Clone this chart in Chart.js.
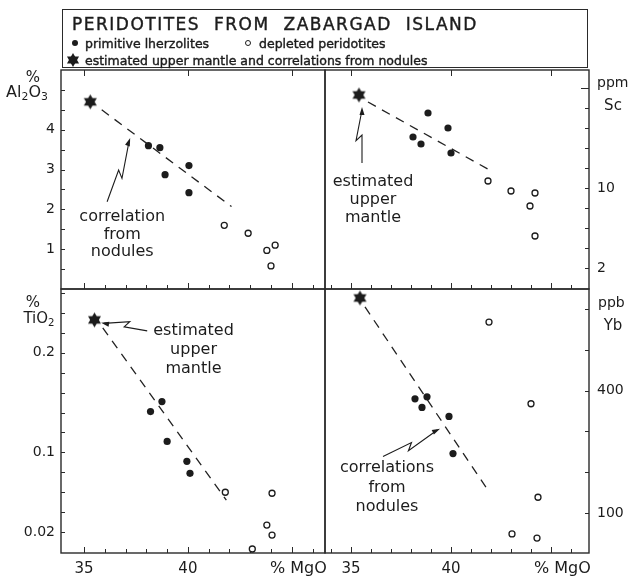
<!DOCTYPE html>
<html>
<head>
<meta charset="utf-8">
<script src="https://cdn.jsdelivr.net/npm/chart.js@4.4.0/dist/chart.umd.min.js"></script>
<style>
body { margin: 0; background: #fff; width: 629px; height: 581px; position: relative; overflow: hidden;
       font-family: "DejaVu Sans", sans-serif; color: #1c1c1c; }
canvas.plot { position: absolute; left: 0; top: 0; }
.lbl { position: absolute; white-space: nowrap; line-height: 1; }
.lbl canvas { display: block; }
.heavy { -webkit-text-stroke: 0.4px #1c1c1c; }
.s { font-size: 0.68em; position: relative; top: 0.3em; }
#titlebox { position: absolute; left: 62px; top: 9px; width: 524px; height: 57px; border: 1.4px solid #2a2a2a; }
</style>
</head>
<body>
<div id="titlebox"></div>
<canvas class="plot" id="alChart" width="629" height="581"></canvas>
<canvas class="plot" id="scChart" width="629" height="581"></canvas>
<canvas class="plot" id="tiChart" width="629" height="581"></canvas>
<canvas class="plot" id="ybChart" width="629" height="581"></canvas>
<script>
var MGO_LABELS = [35, 40];

// Al2O3 (%) against MgO (%)
var alPrimMgo = [38.1, 38.65, 38.9, 40.05, 40.05];
var alPrim    = [3.6, 3.55, 2.87, 3.1, 2.42];
var alDeplMgo = [41.75, 42.9, 43.8, 44.2, 44.0];
var alDepl    = [1.6, 1.4, 0.97, 1.1, 0.58];
var alMantle  = [35.3, 4.7];
var alTrend   = [[35.85, 4.5], [42.1, 2.07]];
var alLabels  = [1, 2, 3, 4];

// Sc (ppm)
var scPrimMgo = [38.85, 39.85, 38.1, 38.5, 40.0];
var scPrim    = [17.5, 16.0, 15.1, 14.4, 13.5];
var scDeplMgo = [41.85, 43.0, 44.2, 43.95, 44.2];
var scDepl    = [10.7, 9.7, 9.5, 8.2, 5.2];
var scMantle  = [35.4, 19.3];
var scTrend   = [[35.85, 18.6], [42.1, 11.6]];
var scLabels  = [2, 10];

// TiO2 (%)
var tiPrimMgo = [38.2, 38.75, 39.0, 39.95, 40.1];
var tiPrim    = [0.141, 0.151, 0.111, 0.091, 0.079];
var tiDeplMgo = [41.8, 44.05, 43.8, 44.05, 43.1];
var tiDepl    = [0.06, 0.059, 0.027, 0.017, 0.003];
var tiMantle  = [35.5, 0.233];
var tiTrend   = [[35.9, 0.225], [41.85, 0.052]];
var tiLabels  = [0.02, 0.1, 0.2];

// Yb (ppb)
var ybPrimMgo = [38.2, 38.8, 38.55, 39.9, 40.1];
var ybPrim    = [380, 385, 359, 337, 246];
var ybDeplMgo = [41.9, 44.0, 44.35, 43.05, 44.3];
var ybDepl    = [568, 368, 139, 49, 39];
var ybMantle  = [35.45, 627];
var ybTrend   = [[35.7, 605], [41.85, 156]];
var ybLabels  = [100, 400];

var INK = '#1c1c1c';

function pts(xs, ys) {
  return xs.map(function (x, i) { return { x: x, y: ys[i] }; });
}

function makeStar(r) {
  var c = document.createElement('canvas');
  var s = Math.ceil(r * 2 + 2);
  c.width = s; c.height = s;
  var g = c.getContext('2d');
  g.fillStyle = INK;
  [-Math.PI / 2, Math.PI / 2].forEach(function (a0) {
    g.beginPath();
    for (var k = 0; k < 3; k++) {
      var a = a0 + k * 2 * Math.PI / 3;
      var px = s / 2 + r * Math.cos(a), py = s / 2 + r * Math.sin(a);
      if (k === 0) g.moveTo(px, py); else g.lineTo(px, py);
    }
    g.closePath();
    g.fill();
  });
  return c;
}
var starImg = makeStar(7.5);

// frame, inward tick marks, notes and arrows
var panelPlugin = {
  id: 'panel',
  beforeDatasetsDraw: function (chart, args, o) {
    var ctx = chart.ctx, a = chart.chartArea;
    var xs = chart.scales.x, ys = chart.scales.y;
    ctx.save();
    ctx.strokeStyle = '#2a2a2a';
    ctx.lineWidth = 1.4;
    ctx.strokeRect(a.left, a.top, a.right - a.left, a.bottom - a.top);
    ctx.lineWidth = 1;
    ctx.beginPath();
    for (var v = 34; v <= 46; v++) {
      var px = Math.round(xs.getPixelForValue(v)) + 0.5;
      if (px < a.left + 3 || px > a.right - 3) continue;
      var len = v % 5 === 0 ? 6 : 4;
      ctx.moveTo(px, a.bottom); ctx.lineTo(px, a.bottom - len);
      if (o.topTicks && v % 5 === 0) { ctx.moveTo(px, a.top); ctx.lineTo(px, a.top + 6); }
    }
    var right = o.side === 'right';
    for (var i = 1; ; i++) {
      var val = i * o.yStep;
      var py = Math.round(ys.getPixelForValue(val)) + 0.5;
      if (py < a.top + 3) break;
      var l = (o.yLong && Math.abs(val - o.yLong) < 1e-9) ? 8 : 4;
      if (right) { ctx.moveTo(a.right, py); ctx.lineTo(a.right - l, py); }
      else { ctx.moveTo(a.left, py); ctx.lineTo(a.left + l, py); }
    }
    ctx.stroke();
    ctx.restore();
  },
  afterDatasetsDraw: function (chart, args, o) {
    var ctx = chart.ctx, xs = chart.scales.x, ys = chart.scales.y;
    ctx.save();
    ctx.fillStyle = INK;
    ctx.strokeStyle = INK;
    ctx.font = '16px "DejaVu Sans"';
    ctx.textAlign = 'center';
    ctx.textBaseline = 'middle';
    (o.notes || []).forEach(function (n) {
      var cx = xs.getPixelForValue(n.at[0]), cy = ys.getPixelForValue(n.at[1]);
      n.lines.forEach(function (t, k) { ctx.fillText(t, cx, cy + k * n.gap); });
      if (!n.arrow) return;
      var x0 = xs.getPixelForValue(n.arrow.from[0]), y0 = ys.getPixelForValue(n.arrow.from[1]);
      var x1 = xs.getPixelForValue(n.arrow.to[0]), y1 = ys.getPixelForValue(n.arrow.to[1]);
      var dx = x1 - x0, dy = y1 - y0, L = Math.sqrt(dx * dx + dy * dy);
      var ux = dx / L, uy = dy / L, nx = -uy * n.arrow.kink, ny = ux * n.arrow.kink;
      var ax = x0 + ux * L * 0.5, ay = y0 + uy * L * 0.5;
      var bx = x0 + ux * L * 0.4 + nx * 6, by = y0 + uy * L * 0.4 + ny * 6;
      ctx.lineWidth = 1.1;
      ctx.beginPath();
      ctx.moveTo(x0, y0); ctx.lineTo(ax, ay); ctx.lineTo(bx, by); ctx.lineTo(x1 - ux * 3, y1 - uy * 3);
      ctx.stroke();
      ctx.beginPath();
      ctx.moveTo(x1, y1);
      ctx.lineTo(x1 - ux * 8 + uy * 2.5, y1 - uy * 8 - ux * 2.5);
      ctx.lineTo(x1 - ux * 8 - uy * 2.5, y1 - uy * 8 + ux * 2.5);
      ctx.closePath();
      ctx.fill();
    });
    ctx.restore();
  }
};

function makePanel(id, p) {
  var showX = p.xLabels;
  var yW = p.side === 'left' ? 50 : 38;
  var xH = showX ? 26 : 0;
  var pad = {
    left: p.side === 'left' ? p.rect[0] - yW : p.rect[0],
    right: p.side === 'right' ? 629 - p.rect[2] - yW : 629 - p.rect[2],
    top: p.rect[1],
    bottom: 581 - p.rect[3] - xH
  };
  return new Chart(document.getElementById(id), {
    type: 'scatter',
    data: {
      datasets: [
        { data: [{ x: p.mantle[0], y: p.mantle[1] }], pointStyle: starImg, pointRadius: 8, order: 0 },
        { data: pts(p.primMgo, p.prim), pointStyle: 'circle', pointRadius: 3.6,
          backgroundColor: INK, borderWidth: 0, order: 1 },
        { data: pts(p.deplMgo, p.depl), pointStyle: 'circle', pointRadius: 3,
          backgroundColor: '#fff', borderColor: INK, borderWidth: 1.3, order: 2 },
        { type: 'line', data: p.trend.map(function (t) { return { x: t[0], y: t[1] }; }),
          showLine: true, borderColor: '#222', borderWidth: 1.3, borderDash: [9, 7],
          pointRadius: 0, fill: false, order: 3 }
      ]
    },
    options: {
      responsive: false,
      animation: false,
      events: [],
      devicePixelRatio: 1,
      clip: false,
      layout: { padding: pad },
      plugins: {
        legend: { display: false },
        tooltip: { enabled: false },
        panel: { side: p.side, topTicks: !showX, yStep: p.yStep, yLong: p.yLong, notes: p.notes }
      },
      scales: {
        x: {
          type: 'linear', position: 'bottom', min: p.xMin, max: p.xMax,
          grid: { display: false, drawTicks: false }, border: { display: false },
          afterBuildTicks: function (s) { s.ticks = MGO_LABELS.map(function (v) { return { value: v }; }); },
          afterFit: function (s) { s.height = xH; },
          ticks: { display: showX, padding: 7, color: INK, font: { family: 'DejaVu Sans', size: 15 },
                   callback: function (v) { return String(v); } }
        },
        y: {
          type: 'linear', position: p.side, min: p.yMin, max: p.yMax,
          grid: { display: false, drawTicks: false }, border: { display: false },
          afterBuildTicks: function (s) { s.ticks = p.labels.map(function (v) { return { value: v }; }); },
          afterFit: function (s) { s.width = yW; },
          ticks: { padding: p.side === 'left' ? 6 : 8, color: INK, font: { family: 'DejaVu Sans', size: 14 },
                   callback: function (v) { return String(v); } }
        }
      }
    },
    plugins: [panelPlugin]
  });
}

makePanel('alChart', {
  rect: [61, 70, 325, 289], side: 'left', xLabels: false, xMin: 33.89, xMax: 46.6,
  yMin: 0, yMax: 5.5, yStep: 0.5, labels: alLabels,
  primMgo: alPrimMgo, prim: alPrim, deplMgo: alDeplMgo, depl: alDepl, mantle: alMantle, trend: alTrend,
  notes: [{ lines: ['correlation', 'from', 'nodules'], at: [36.84, 1.81], gap: 17.5,
            arrow: { from: [36.11, 2.19], to: [37.22, 3.79], kink: 1 } }]
});

makePanel('scChart', {
  rect: [325, 70, 589, 289], side: 'right', xLabels: false, xMin: 33.7, xMax: 46.9,
  yMin: -0.1, yMax: 21.8, yStep: 2, yLong: 20, labels: scLabels,
  primMgo: scPrimMgo, prim: scPrim, deplMgo: scDeplMgo, depl: scDepl, mantle: scMantle, trend: scTrend,
  notes: [{ lines: ['estimated', 'upper', 'mantle'], at: [36.1, 10.6], gap: 18,
            arrow: { from: [35.55, 12.5], to: [35.55, 18.1], kink: -1 } }]
});

makePanel('tiChart', {
  rect: [61, 289, 325, 553], side: 'left', xLabels: true, xMin: 33.89, xMax: 46.6,
  yMin: -0.001, yMax: 0.264, yStep: 0.02, labels: tiLabels,
  primMgo: tiPrimMgo, prim: tiPrim, deplMgo: tiDeplMgo, depl: tiDepl, mantle: tiMantle, trend: tiTrend,
  notes: [{ lines: ['estimated', 'upper', 'mantle'], at: [40.27, 0.222], gap: 19,
            arrow: { from: [38.04, 0.222], to: [35.82, 0.23], kink: 1 } }]
});

makePanel('ybChart', {
  rect: [325, 289, 589, 553], side: 'right', xLabels: true, xMin: 33.7, xMax: 46.9,
  yMin: 2.4, yMax: 649, yStep: 100, labels: ybLabels,
  primMgo: ybPrimMgo, prim: ybPrim, deplMgo: ybDeplMgo, depl: ybDepl, mantle: ybMantle, trend: ybTrend,
  notes: [{ lines: ['correlations', 'from', 'nodules'], at: [36.8, 210], gap: 19.5,
            arrow: { from: [36.6, 239], to: [39.45, 307], kink: 1 } }]
});

// title box, legend and axis captions
function put(html, x, y, size, align) {
  var d = document.createElement('div');
  d.className = 'lbl';
  d.innerHTML = html;
  d.style.fontSize = size + 'px';
  d.style.left = x + 'px';
  d.style.top = y + 'px';
  d.style.transform = align === 'left' ? 'translate(0,-50%)' : 'translate(-50%,-50%)';
  document.body.appendChild(d);
  return d;
}

var t = put('PERIDOTITES FROM ZABARGAD ISLAND', 72, 24, 17, 'left');
t.className += ' heavy';
t.style.letterSpacing = '1.5px';
t.style.wordSpacing = '7px';
put('primitive lherzolites', 85, 44, 12.5, 'left').className += ' heavy';
put('depleted peridotites', 259, 44, 12.5, 'left').className += ' heavy';
put('estimated upper mantle and correlations from nodules', 85, 61, 12.5, 'left').className += ' heavy';

var dot = put('', 75, 43, 10, 'center');
dot.style.cssText += 'width:6px;height:6px;border-radius:50%;background:' + INK + ';';
var ring = put('', 248, 43, 10, 'center');
ring.style.cssText += 'width:4px;height:4px;border-radius:50%;border:1.2px solid ' + INK + ';';
var star = put('', 73, 60, 10, 'center');
star.appendChild(makeStar(7));

put('%', 33, 77, 15, 'center');
put('Al<span class="s">2</span>O<span class="s">3</span>', 27, 92, 16, 'center');
put('ppm', 597, 82, 14, 'left');
put('Sc', 613, 105, 15, 'center');
put('%', 33, 302, 15, 'center');
put('TiO<span class="s">2</span>', 39, 318, 15, 'center');
put('ppb', 598, 302, 14, 'left');
put('Yb', 613, 325, 15, 'center');
put('% MgO', 270, 568, 16, 'left');
put('% MgO', 534, 568, 16, 'left');
</script>
</body>
</html>
